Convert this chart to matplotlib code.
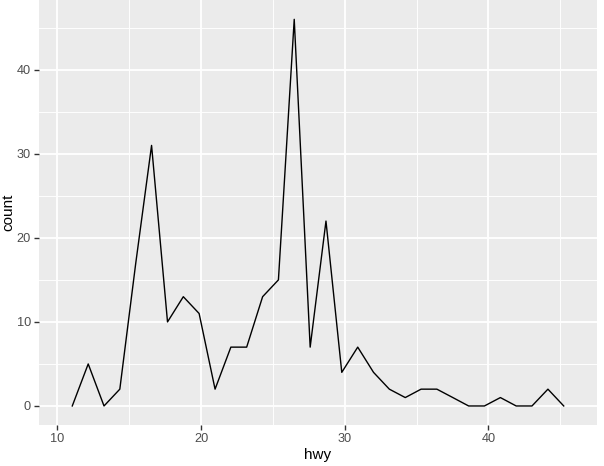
import matplotlib
matplotlib.use("Agg")
from matplotlib import pyplot as plt
import numpy as np

plt.rcParams['font.family'] = ['Liberation Sans', 'DejaVu Sans']

# bin centres of the frequency polygon (30 bins + one empty pad at each end)
hwy = [11.03, 12.14, 13.24, 14.34, 15.45, 16.55, 17.66, 18.76, 19.86, 20.97,
       22.07, 23.17, 24.28, 25.38, 26.48, 27.59, 28.69, 29.79, 30.90, 32.00,
       33.10, 34.21, 35.31, 36.41, 37.52, 38.62, 39.72, 40.83, 41.93, 43.03,
       44.14, 45.24]
count = [0, 5, 0, 2, 17, 31, 10, 13, 11, 2,
         7, 7, 13, 15, 46, 7, 22, 4, 7, 4,
         2, 1, 2, 2, 1, 0, 0, 1, 0, 0,
         2, 0]
half_bin = 0.55

x_ticks = [10, 20, 30, 40]
y_ticks = [0, 10, 20, 30, 40]

W, H = 604, 466
fig = plt.figure(figsize=(W / 100, H / 100), dpi=100)
left, right, top, bottom = 39, 597, 0, 425.3
ax = fig.add_axes([left / W, (H - bottom) / H, (right - left) / W, (bottom - top) / H])

ax.set_facecolor('#EBEBEB')
for s in ax.spines.values():
    s.set_visible(False)

ax.plot(hwy, count, color='black', linewidth=1.0, zorder=3)

# scale limits include the bin edges, plus 5% expansion
lo, hi = hwy[0] - half_bin, hwy[-1] + half_bin
pad = 0.05 * (hi - lo)
ax.set_xlim(lo - pad, hi + pad)
ypad = 0.05 * max(count)
ax.set_ylim(-ypad, max(count) + ypad)

ax.set_xticks(x_ticks)
ax.set_yticks(y_ticks)
ax.set_xticks([15, 25, 35, 45], minor=True)
ax.set_yticks([5, 15, 25, 35, 45], minor=True)
ax.grid(which='major', color='white', linewidth=1.3)
ax.grid(which='minor', color='white', linewidth=0.65)
ax.set_axisbelow(True)

ax.tick_params(which='major', length=3.7, width=1.0, color='#333333',
               labelsize=9.2, labelcolor='#4D4D4D', pad=2)
ax.tick_params(which='minor', length=0)

ax.set_xlabel('hwy', fontsize=11, color='black')
ax.set_ylabel('count', fontsize=11, color='black')
ax.yaxis.label.set_va('center')
ax.xaxis.label.set_va('center')
ax.yaxis.set_label_coords(-0.0556, 0.5)
ax.xaxis.set_label_coords(0.5, -0.0705)

fig.savefig('out.png', dpi=100)
